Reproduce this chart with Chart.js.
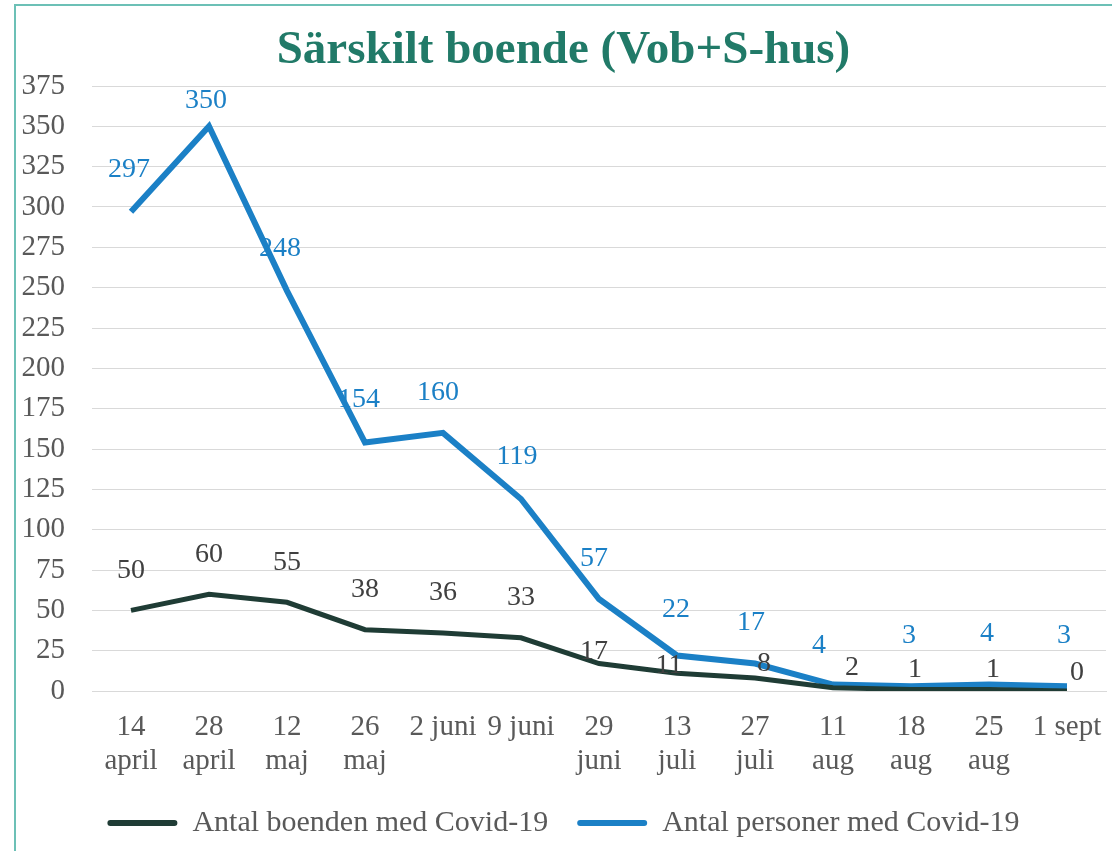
<!DOCTYPE html>
<html>
<head>
<meta charset="utf-8">
<script src="https://cdn.jsdelivr.net/npm/chart.js@4"></script>
<style>
  body { margin: 0; background: #fff; }
  #wrap {
    position: absolute; left: 14px; top: 4px; width: 1096px; height: 845px;
    border-left: 2px solid #6cc0b6; border-top: 2px solid #6cc0b6;
  }
</style>
</head>
<body>
<div id="wrap"><canvas id="chart"></canvas></div>
<script>
const dates = [
    ['14', 'april'], ['28', 'april'], ['12', 'maj'], ['26', 'maj'], '2 juni', '9 juni',
    ['29', 'juni'], ['13', 'juli'], ['27', 'juli'], ['11', 'aug'], ['18', 'aug'], ['25', 'aug'], '1 sept'
];
const boenden = [50, 60, 55, 38, 36, 33, 17, 11, 8, 2, 1, 1, 0];
const personer = [297, 350, 248, 154, 160, 119, 57, 22, 17, 4, 3, 4, 3];

const serif = "'Liberation Serif', 'Times New Roman', serif";

// draws the value labels above each point
const valueLabels = {
    id: 'valueLabels',
    afterDatasetsDraw(chart) {
        const ctx = chart.ctx;
        ctx.save();
        ctx.font = '28px ' + serif;
        ctx.textAlign = 'center';
        ctx.textBaseline = 'middle';
        chart.data.datasets.forEach((ds, i) => {
            const meta = chart.getDatasetMeta(i);
            ctx.fillStyle = ds.labelColor;
            meta.data.forEach((pt, j) => {
                const lift = ds.labelLift[j] || 40;
                const shift = ds.labelShift[j] || 0;
                ctx.fillText(String(ds.data[j]), pt.x + shift, pt.y - lift);
            });
        });
        ctx.restore();
    }
};

const ctx = document.getElementById('chart').getContext('2d');
new Chart(ctx, {
    type: 'line',
    data: {
        labels: dates,
        datasets: [{
            label: 'Antal boenden med Covid-19',
            data: boenden,
            borderColor: '#1f3c35',
            backgroundColor: '#1f3c35',
            borderWidth: 5,
            pointRadius: 0,
            tension: 0,
            labelColor: '#404040',
            labelLift: [40, 40, 40, 40, 40, 40, 12, 8, 14, 20, 20, 20, 18],
            labelShift: [0, 0, 0, 0, 0, 0, -5, -8, 9, 19, 4, 4, 10]
        }, {
            label: 'Antal personer med Covid-19',
            data: personer,
            borderColor: '#1b80c6',
            backgroundColor: '#1b80c6',
            borderWidth: 6,
            pointRadius: 0,
            tension: 0,
            labelColor: '#1b80c6',
            labelLift: [42, 26, 42, 43, 40, 42, 40, 46, 41, 39, 51, 51, 51],
            labelShift: [-2, -3, -7, -6, -5, -4, -5, -1, -4, -14, -2, -2, -3]
        }]
    },
    options: {
        responsive: true,
        maintainAspectRatio: false,
        animation: false,
        layout: { padding: { left: 5, right: 6, top: 0, bottom: 3 } },
        plugins: {
            title: {
                display: true,
                text: 'Särskilt boende (Vob+S-hus)',
                color: '#217a68',
                font: { family: serif, size: 47, weight: 'bold', lineHeight: 1 },
                padding: { top: 21, bottom: 12 }
            },
            legend: {
                position: 'bottom',
                labels: {
                    color: '#595959',
                    font: { family: serif, size: 30, lineHeight: 1 },
                    boxWidth: 70,
                    boxHeight: 6,
                    padding: 29,
                    useBorderRadius: true,
                    borderRadius: 3,
                    generateLabels: (chart) =>
                        Chart.defaults.plugins.legend.labels.generateLabels(chart)
                            .map(l => ({ ...l, lineWidth: 0 }))
                }
            },
            tooltip: { enabled: false }
        },
        scales: {
            x: {
                offset: true,
                grid: { display: false, drawTicks: false },
                border: { color: '#d9d9d9' },
                ticks: {
                    color: '#595959',
                    font: { family: serif, size: 29, lineHeight: 1.17 },
                    maxRotation: 0,
                    autoSkip: false,
                    padding: 19
                },
                afterFit(scale) {
                    scale.paddingLeft = 0;
                    scale.paddingRight = 0;
                    scale.height = 88;
                }
            },
            y: {
                min: 0,
                max: 375,
                grid: { color: '#d9d9d9', drawTicks: false },
                border: { display: false },
                ticks: {
                    stepSize: 25,
                    color: '#595959',
                    font: { family: serif, size: 29, lineHeight: 1 },
                    padding: 27
                },
                afterFit(scale) {
                    scale.width = 71;
                }
            }
        }
    },
    plugins: [valueLabels]
});
</script>
</body>
</html>
